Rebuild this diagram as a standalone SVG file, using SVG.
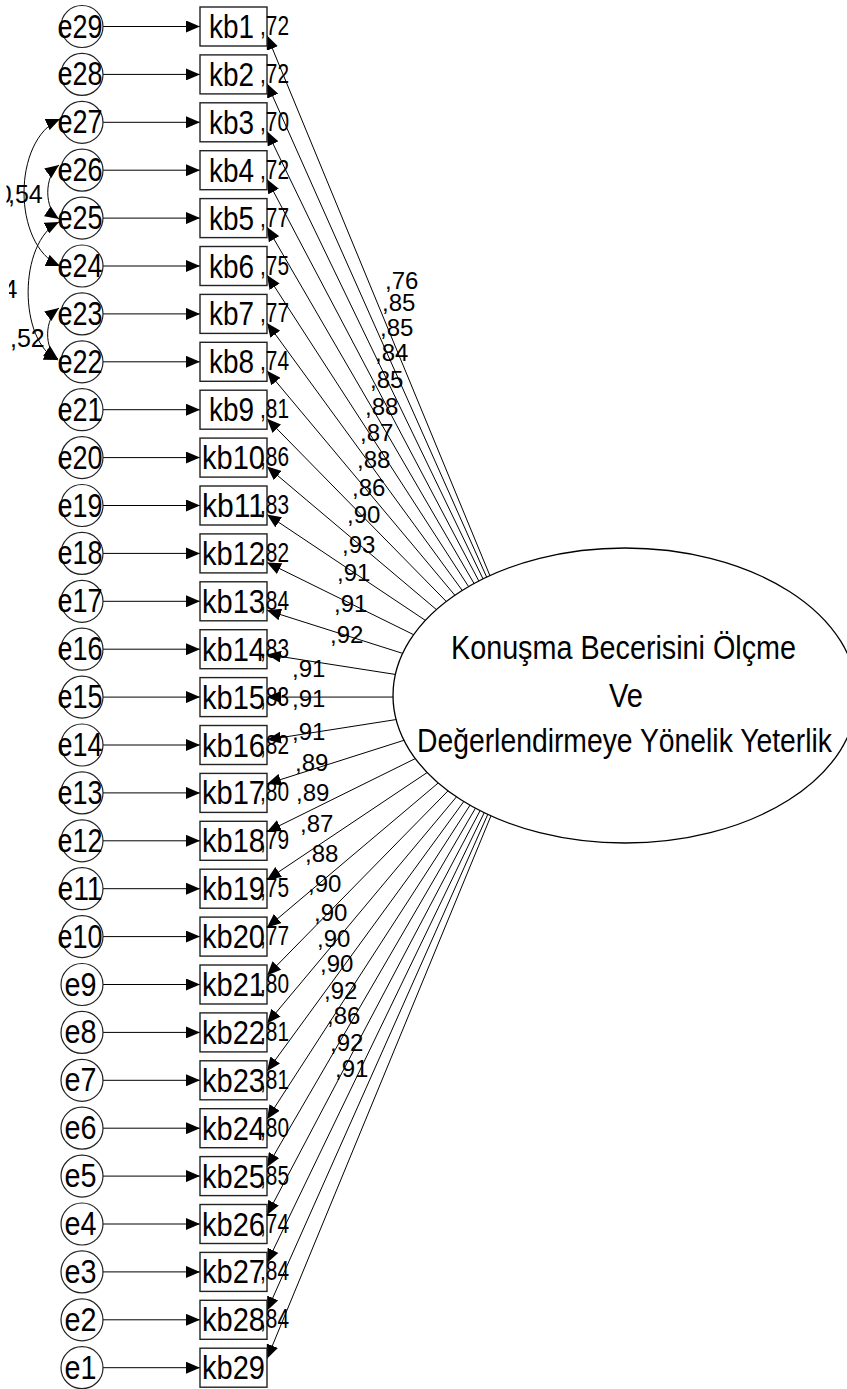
<svg xmlns="http://www.w3.org/2000/svg" width="847" height="1389" viewBox="0 0 847 1389">
<style>
text{font-family:"Liberation Sans",Arial,sans-serif;fill:#000}
.et{font-size:33px}
.kt{font-size:33px}
.r2{font-size:27px}
.lab{font-size:24px}
.big{font-size:33px}
circle.node{fill:#fff;stroke:#222;stroke-width:1.2}
rect.node{fill:#fff;stroke:#222;stroke-width:1.4}
.path{fill:none;stroke:#000;stroke-width:1;marker-end:url(#ah)}
.cov{fill:none;stroke:#000;stroke-width:1;marker-start:url(#ah);marker-end:url(#ah)}
</style>
<defs>
<marker id="ah" viewBox="0 0 14 12" refX="14" refY="6" markerWidth="14" markerHeight="12" markerUnits="userSpaceOnUse" orient="auto-start-reverse"><path d="M0,0 L14,6 L0,12 z" fill="#000"/></marker>
<clipPath id="clipA"><rect x="6.5" y="170" width="30" height="45"/></clipPath>
<clipPath id="clipC"><rect x="9" y="265" width="30" height="45"/></clipPath>
</defs>
<rect width="847" height="1389" fill="#fff"/>

<g id="connectors">
<line class="path" x1="103" y1="26.5" x2="200" y2="26.5"/>
<line class="path" x1="103" y1="74.4" x2="200" y2="74.4"/>
<line class="path" x1="103" y1="122.3" x2="200" y2="122.3"/>
<line class="path" x1="103" y1="170.2" x2="200" y2="170.2"/>
<line class="path" x1="103" y1="218.1" x2="200" y2="218.1"/>
<line class="path" x1="103" y1="266" x2="200" y2="266"/>
<line class="path" x1="103" y1="313.9" x2="200" y2="313.9"/>
<line class="path" x1="103" y1="361.8" x2="200" y2="361.8"/>
<line class="path" x1="103" y1="409.7" x2="200" y2="409.7"/>
<line class="path" x1="103" y1="457.6" x2="200" y2="457.6"/>
<line class="path" x1="103" y1="505.5" x2="200" y2="505.5"/>
<line class="path" x1="103" y1="553.4" x2="200" y2="553.4"/>
<line class="path" x1="103" y1="601.3" x2="200" y2="601.3"/>
<line class="path" x1="103" y1="649.2" x2="200" y2="649.2"/>
<line class="path" x1="103" y1="697.1" x2="200" y2="697.1"/>
<line class="path" x1="103" y1="745" x2="200" y2="745"/>
<line class="path" x1="103" y1="792.9" x2="200" y2="792.9"/>
<line class="path" x1="103" y1="840.8" x2="200" y2="840.8"/>
<line class="path" x1="103" y1="888.7" x2="200" y2="888.7"/>
<line class="path" x1="103" y1="936.6" x2="200" y2="936.6"/>
<line class="path" x1="103" y1="984.5" x2="200" y2="984.5"/>
<line class="path" x1="103" y1="1032.4" x2="200" y2="1032.4"/>
<line class="path" x1="103" y1="1080.3" x2="200" y2="1080.3"/>
<line class="path" x1="103" y1="1128.2" x2="200" y2="1128.2"/>
<line class="path" x1="103" y1="1176.1" x2="200" y2="1176.1"/>
<line class="path" x1="103" y1="1224" x2="200" y2="1224"/>
<line class="path" x1="103" y1="1271.9" x2="200" y2="1271.9"/>
<line class="path" x1="103" y1="1319.8" x2="200" y2="1319.8"/>
<line class="path" x1="103" y1="1367.7" x2="200" y2="1367.7"/>
<line class="path" x1="540" y1="697" x2="267" y2="35.5"/>
<line class="path" x1="540" y1="697" x2="267" y2="83.4"/>
<line class="path" x1="540" y1="697" x2="267" y2="131.3"/>
<line class="path" x1="540" y1="697" x2="267" y2="179.2"/>
<line class="path" x1="540" y1="697" x2="267" y2="227.1"/>
<line class="path" x1="540" y1="697" x2="267" y2="275"/>
<line class="path" x1="540" y1="697" x2="267" y2="322.9"/>
<line class="path" x1="540" y1="697" x2="267" y2="370.8"/>
<line class="path" x1="540" y1="697" x2="267" y2="418.7"/>
<line class="path" x1="540" y1="697" x2="267" y2="466.6"/>
<line class="path" x1="540" y1="697" x2="267" y2="514.5"/>
<line class="path" x1="540" y1="697" x2="267" y2="562.4"/>
<line class="path" x1="540" y1="697" x2="267" y2="610.3"/>
<line class="path" x1="540" y1="697" x2="267" y2="654.4"/>
<line class="path" x1="540" y1="697" x2="267" y2="697.1"/>
<line class="path" x1="540" y1="697" x2="267" y2="739.8"/>
<line class="path" x1="540" y1="697" x2="267" y2="783.9"/>
<line class="path" x1="540" y1="697" x2="267" y2="831.8"/>
<line class="path" x1="540" y1="697" x2="267" y2="879.7"/>
<line class="path" x1="540" y1="697" x2="267" y2="927.6"/>
<line class="path" x1="540" y1="697" x2="267" y2="975.5"/>
<line class="path" x1="540" y1="697" x2="267" y2="1023.4"/>
<line class="path" x1="540" y1="697" x2="267" y2="1071.3"/>
<line class="path" x1="540" y1="697" x2="267" y2="1119.2"/>
<line class="path" x1="540" y1="697" x2="267" y2="1167.1"/>
<line class="path" x1="540" y1="697" x2="267" y2="1215"/>
<line class="path" x1="540" y1="697" x2="267" y2="1262.9"/>
<line class="path" x1="540" y1="697" x2="267" y2="1310.8"/>
<line class="path" x1="540" y1="697" x2="267" y2="1358.7"/>
<path class="cov" d="M60,119 C12,140 12,245 60,266"/>
<path class="cov" d="M59,165 C44,176 44,209 59,219"/>
<path class="cov" d="M59,222 C18,242 18,342 58,360"/>
<path class="cov" d="M59,308 C44,319 44,349 58,359"/>
<text class="lab" x="-2.2" y="203" style="font-size:25px" clip-path="url(#clipA)">0</text>
<text class="lab" x="8" y="203" style="font-size:25px">,54</text>
<text class="lab" x="3.5" y="298" style="font-size:25px" clip-path="url(#clipC)">4</text>
<text class="lab" x="10" y="347" style="font-size:25px">,52</text>
<text class="lab" x="385" y="288.6">,76</text>
<text class="lab" x="382" y="310.6">,85</text>
<text class="lab" x="380" y="335.6">,85</text>
<text class="lab" x="375" y="360.6">,84</text>
<text class="lab" x="370" y="387.6">,85</text>
<text class="lab" x="365" y="414.6">,88</text>
<text class="lab" x="360" y="440.6">,87</text>
<text class="lab" x="357" y="467.6">,88</text>
<text class="lab" x="352" y="495.6">,86</text>
<text class="lab" x="347" y="522.6">,90</text>
<text class="lab" x="342" y="552.6">,93</text>
<text class="lab" x="337" y="580.6">,91</text>
<text class="lab" x="334" y="611.6">,91</text>
<text class="lab" x="330" y="642.6">,92</text>
<text class="lab" x="292" y="676.6">,91</text>
<text class="lab" x="292" y="706.6">,91</text>
<text class="lab" x="292" y="739.6">,91</text>
<text class="lab" x="295" y="770.6">,89</text>
<text class="lab" x="296" y="800.6">,89</text>
<text class="lab" x="300" y="831.6">,87</text>
<text class="lab" x="305" y="861.6">,88</text>
<text class="lab" x="308" y="891.6">,90</text>
<text class="lab" x="314" y="920.6">,90</text>
<text class="lab" x="317" y="946.6">,90</text>
<text class="lab" x="320" y="971.6">,90</text>
<text class="lab" x="324" y="998.6">,92</text>
<text class="lab" x="327" y="1023.6">,86</text>
<text class="lab" x="330" y="1050.6">,92</text>
<text class="lab" x="335" y="1076.6">,91</text>
</g>

<g id="F1">
<ellipse cx="625" cy="695.5" rx="232" ry="147.5" fill="#fff" stroke="#000" stroke-width="1.3"/>
<text class="big" x="451" y="659" textLength="345" lengthAdjust="spacingAndGlyphs">Konuşma Becerisini Ölçme</text>
<text class="big" x="609" y="707" textLength="34" lengthAdjust="spacingAndGlyphs">Ve</text>
<text class="big" x="417" y="752" textLength="415" lengthAdjust="spacingAndGlyphs">Değerlendirmeye Yönelik Yeterlik</text>
</g>

<g id="errors">
<g id="e29"><circle class="node" cx="82" cy="26.5" r="21"/><text class="et" x="57.5" y="37.5" textLength="45" lengthAdjust="spacingAndGlyphs">e29</text></g>
<g id="e28"><circle class="node" cx="82" cy="74.4" r="21"/><text class="et" x="57.5" y="85.4" textLength="45" lengthAdjust="spacingAndGlyphs">e28</text></g>
<g id="e27"><circle class="node" cx="82" cy="122.3" r="21"/><text class="et" x="57.5" y="133.3" textLength="45" lengthAdjust="spacingAndGlyphs">e27</text></g>
<g id="e26"><circle class="node" cx="82" cy="170.2" r="21"/><text class="et" x="57.5" y="181.2" textLength="45" lengthAdjust="spacingAndGlyphs">e26</text></g>
<g id="e25"><circle class="node" cx="82" cy="218.1" r="21"/><text class="et" x="57.5" y="229.1" textLength="45" lengthAdjust="spacingAndGlyphs">e25</text></g>
<g id="e24"><circle class="node" cx="82" cy="266" r="21"/><text class="et" x="57.5" y="277" textLength="45" lengthAdjust="spacingAndGlyphs">e24</text></g>
<g id="e23"><circle class="node" cx="82" cy="313.9" r="21"/><text class="et" x="57.5" y="324.9" textLength="45" lengthAdjust="spacingAndGlyphs">e23</text></g>
<g id="e22"><circle class="node" cx="82" cy="361.8" r="21"/><text class="et" x="57.5" y="372.8" textLength="45" lengthAdjust="spacingAndGlyphs">e22</text></g>
<g id="e21"><circle class="node" cx="82" cy="409.7" r="21"/><text class="et" x="57.5" y="420.7" textLength="45" lengthAdjust="spacingAndGlyphs">e21</text></g>
<g id="e20"><circle class="node" cx="82" cy="457.6" r="21"/><text class="et" x="57.5" y="468.6" textLength="45" lengthAdjust="spacingAndGlyphs">e20</text></g>
<g id="e19"><circle class="node" cx="82" cy="505.5" r="21"/><text class="et" x="57.5" y="516.5" textLength="45" lengthAdjust="spacingAndGlyphs">e19</text></g>
<g id="e18"><circle class="node" cx="82" cy="553.4" r="21"/><text class="et" x="57.5" y="564.4" textLength="45" lengthAdjust="spacingAndGlyphs">e18</text></g>
<g id="e17"><circle class="node" cx="82" cy="601.3" r="21"/><text class="et" x="57.5" y="612.3" textLength="45" lengthAdjust="spacingAndGlyphs">e17</text></g>
<g id="e16"><circle class="node" cx="82" cy="649.2" r="21"/><text class="et" x="57.5" y="660.2" textLength="45" lengthAdjust="spacingAndGlyphs">e16</text></g>
<g id="e15"><circle class="node" cx="82" cy="697.1" r="21"/><text class="et" x="57.5" y="708.1" textLength="45" lengthAdjust="spacingAndGlyphs">e15</text></g>
<g id="e14"><circle class="node" cx="82" cy="745" r="21"/><text class="et" x="57.5" y="756" textLength="45" lengthAdjust="spacingAndGlyphs">e14</text></g>
<g id="e13"><circle class="node" cx="82" cy="792.9" r="21"/><text class="et" x="57.5" y="803.9" textLength="45" lengthAdjust="spacingAndGlyphs">e13</text></g>
<g id="e12"><circle class="node" cx="82" cy="840.8" r="21"/><text class="et" x="57.5" y="851.8" textLength="45" lengthAdjust="spacingAndGlyphs">e12</text></g>
<g id="e11"><circle class="node" cx="82" cy="888.7" r="21"/><text class="et" x="57.5" y="899.7" textLength="45" lengthAdjust="spacingAndGlyphs">e11</text></g>
<g id="e10"><circle class="node" cx="82" cy="936.6" r="21"/><text class="et" x="57.5" y="947.6" textLength="45" lengthAdjust="spacingAndGlyphs">e10</text></g>
<g id="e9"><circle class="node" cx="82" cy="984.5" r="21"/><text class="et" x="64.5" y="995.5" textLength="32" lengthAdjust="spacingAndGlyphs">e9</text></g>
<g id="e8"><circle class="node" cx="82" cy="1032.4" r="21"/><text class="et" x="64.5" y="1043.4" textLength="32" lengthAdjust="spacingAndGlyphs">e8</text></g>
<g id="e7"><circle class="node" cx="82" cy="1080.3" r="21"/><text class="et" x="64.5" y="1091.3" textLength="32" lengthAdjust="spacingAndGlyphs">e7</text></g>
<g id="e6"><circle class="node" cx="82" cy="1128.2" r="21"/><text class="et" x="64.5" y="1139.2" textLength="32" lengthAdjust="spacingAndGlyphs">e6</text></g>
<g id="e5"><circle class="node" cx="82" cy="1176.1" r="21"/><text class="et" x="64.5" y="1187.1" textLength="32" lengthAdjust="spacingAndGlyphs">e5</text></g>
<g id="e4"><circle class="node" cx="82" cy="1224" r="21"/><text class="et" x="64.5" y="1235" textLength="32" lengthAdjust="spacingAndGlyphs">e4</text></g>
<g id="e3"><circle class="node" cx="82" cy="1271.9" r="21"/><text class="et" x="64.5" y="1282.9" textLength="32" lengthAdjust="spacingAndGlyphs">e3</text></g>
<g id="e2"><circle class="node" cx="82" cy="1319.8" r="21"/><text class="et" x="64.5" y="1330.8" textLength="32" lengthAdjust="spacingAndGlyphs">e2</text></g>
<g id="e1"><circle class="node" cx="82" cy="1367.7" r="21"/><text class="et" x="64.5" y="1378.7" textLength="32" lengthAdjust="spacingAndGlyphs">e1</text></g>
</g>

<g id="indicators">
<g id="kb1"><rect class="node" x="200" y="7" width="67" height="39"/><text class="kt" x="209" y="38" textLength="45" lengthAdjust="spacingAndGlyphs">kb1</text><text class="r2" x="260" y="35" textLength="29" lengthAdjust="spacingAndGlyphs">,72</text></g>
<g id="kb2"><rect class="node" x="200" y="54.9" width="67" height="39"/><text class="kt" x="209" y="85.9" textLength="45" lengthAdjust="spacingAndGlyphs">kb2</text><text class="r2" x="260" y="82.9" textLength="29" lengthAdjust="spacingAndGlyphs">,72</text></g>
<g id="kb3"><rect class="node" x="200" y="102.8" width="67" height="39"/><text class="kt" x="209" y="133.8" textLength="45" lengthAdjust="spacingAndGlyphs">kb3</text><text class="r2" x="260" y="130.8" textLength="29" lengthAdjust="spacingAndGlyphs">,70</text></g>
<g id="kb4"><rect class="node" x="200" y="150.7" width="67" height="39"/><text class="kt" x="209" y="181.7" textLength="45" lengthAdjust="spacingAndGlyphs">kb4</text><text class="r2" x="260" y="178.7" textLength="29" lengthAdjust="spacingAndGlyphs">,72</text></g>
<g id="kb5"><rect class="node" x="200" y="198.6" width="67" height="39"/><text class="kt" x="209" y="229.6" textLength="45" lengthAdjust="spacingAndGlyphs">kb5</text><text class="r2" x="260" y="226.6" textLength="29" lengthAdjust="spacingAndGlyphs">,77</text></g>
<g id="kb6"><rect class="node" x="200" y="246.5" width="67" height="39"/><text class="kt" x="209" y="277.5" textLength="45" lengthAdjust="spacingAndGlyphs">kb6</text><text class="r2" x="260" y="274.5" textLength="29" lengthAdjust="spacingAndGlyphs">,75</text></g>
<g id="kb7"><rect class="node" x="200" y="294.4" width="67" height="39"/><text class="kt" x="209" y="325.4" textLength="45" lengthAdjust="spacingAndGlyphs">kb7</text><text class="r2" x="260" y="322.4" textLength="29" lengthAdjust="spacingAndGlyphs">,77</text></g>
<g id="kb8"><rect class="node" x="200" y="342.3" width="67" height="39"/><text class="kt" x="209" y="373.3" textLength="45" lengthAdjust="spacingAndGlyphs">kb8</text><text class="r2" x="260" y="370.3" textLength="29" lengthAdjust="spacingAndGlyphs">,74</text></g>
<g id="kb9"><rect class="node" x="200" y="390.2" width="67" height="39"/><text class="kt" x="209" y="421.2" textLength="45" lengthAdjust="spacingAndGlyphs">kb9</text><text class="r2" x="260" y="418.2" textLength="29" lengthAdjust="spacingAndGlyphs">,81</text></g>
<g id="kb10"><rect class="node" x="200" y="438.1" width="67" height="39"/><text class="kt" x="202" y="469.1" textLength="63" lengthAdjust="spacingAndGlyphs">kb10</text><text class="r2" x="260" y="466.1" textLength="29" lengthAdjust="spacingAndGlyphs">,86</text></g>
<g id="kb11"><rect class="node" x="200" y="486" width="67" height="39"/><text class="kt" x="202" y="517" textLength="63" lengthAdjust="spacingAndGlyphs">kb11</text><text class="r2" x="260" y="514" textLength="29" lengthAdjust="spacingAndGlyphs">,83</text></g>
<g id="kb12"><rect class="node" x="200" y="533.9" width="67" height="39"/><text class="kt" x="202" y="564.9" textLength="63" lengthAdjust="spacingAndGlyphs">kb12</text><text class="r2" x="260" y="561.9" textLength="29" lengthAdjust="spacingAndGlyphs">,82</text></g>
<g id="kb13"><rect class="node" x="200" y="581.8" width="67" height="39"/><text class="kt" x="202" y="612.8" textLength="63" lengthAdjust="spacingAndGlyphs">kb13</text><text class="r2" x="260" y="609.8" textLength="29" lengthAdjust="spacingAndGlyphs">,84</text></g>
<g id="kb14"><rect class="node" x="200" y="629.7" width="67" height="39"/><text class="kt" x="202" y="660.7" textLength="63" lengthAdjust="spacingAndGlyphs">kb14</text><text class="r2" x="260" y="657.7" textLength="29" lengthAdjust="spacingAndGlyphs">,83</text></g>
<g id="kb15"><rect class="node" x="200" y="677.6" width="67" height="39"/><text class="kt" x="202" y="708.6" textLength="63" lengthAdjust="spacingAndGlyphs">kb15</text><text class="r2" x="260" y="705.6" textLength="29" lengthAdjust="spacingAndGlyphs">,83</text></g>
<g id="kb16"><rect class="node" x="200" y="725.5" width="67" height="39"/><text class="kt" x="202" y="756.5" textLength="63" lengthAdjust="spacingAndGlyphs">kb16</text><text class="r2" x="260" y="753.5" textLength="29" lengthAdjust="spacingAndGlyphs">,82</text></g>
<g id="kb17"><rect class="node" x="200" y="773.4" width="67" height="39"/><text class="kt" x="202" y="804.4" textLength="63" lengthAdjust="spacingAndGlyphs">kb17</text><text class="r2" x="260" y="801.4" textLength="29" lengthAdjust="spacingAndGlyphs">,80</text></g>
<g id="kb18"><rect class="node" x="200" y="821.3" width="67" height="39"/><text class="kt" x="202" y="852.3" textLength="63" lengthAdjust="spacingAndGlyphs">kb18</text><text class="r2" x="260" y="849.3" textLength="29" lengthAdjust="spacingAndGlyphs">,79</text></g>
<g id="kb19"><rect class="node" x="200" y="869.2" width="67" height="39"/><text class="kt" x="202" y="900.2" textLength="63" lengthAdjust="spacingAndGlyphs">kb19</text><text class="r2" x="260" y="897.2" textLength="29" lengthAdjust="spacingAndGlyphs">,75</text></g>
<g id="kb20"><rect class="node" x="200" y="917.1" width="67" height="39"/><text class="kt" x="202" y="948.1" textLength="63" lengthAdjust="spacingAndGlyphs">kb20</text><text class="r2" x="260" y="945.1" textLength="29" lengthAdjust="spacingAndGlyphs">,77</text></g>
<g id="kb21"><rect class="node" x="200" y="965" width="67" height="39"/><text class="kt" x="202" y="996" textLength="63" lengthAdjust="spacingAndGlyphs">kb21</text><text class="r2" x="260" y="993" textLength="29" lengthAdjust="spacingAndGlyphs">,80</text></g>
<g id="kb22"><rect class="node" x="200" y="1012.9" width="67" height="39"/><text class="kt" x="202" y="1043.9" textLength="63" lengthAdjust="spacingAndGlyphs">kb22</text><text class="r2" x="260" y="1040.9" textLength="29" lengthAdjust="spacingAndGlyphs">,81</text></g>
<g id="kb23"><rect class="node" x="200" y="1060.8" width="67" height="39"/><text class="kt" x="202" y="1091.8" textLength="63" lengthAdjust="spacingAndGlyphs">kb23</text><text class="r2" x="260" y="1088.8" textLength="29" lengthAdjust="spacingAndGlyphs">,81</text></g>
<g id="kb24"><rect class="node" x="200" y="1108.7" width="67" height="39"/><text class="kt" x="202" y="1139.7" textLength="63" lengthAdjust="spacingAndGlyphs">kb24</text><text class="r2" x="260" y="1136.7" textLength="29" lengthAdjust="spacingAndGlyphs">,80</text></g>
<g id="kb25"><rect class="node" x="200" y="1156.6" width="67" height="39"/><text class="kt" x="202" y="1187.6" textLength="63" lengthAdjust="spacingAndGlyphs">kb25</text><text class="r2" x="260" y="1184.6" textLength="29" lengthAdjust="spacingAndGlyphs">,85</text></g>
<g id="kb26"><rect class="node" x="200" y="1204.5" width="67" height="39"/><text class="kt" x="202" y="1235.5" textLength="63" lengthAdjust="spacingAndGlyphs">kb26</text><text class="r2" x="260" y="1232.5" textLength="29" lengthAdjust="spacingAndGlyphs">,74</text></g>
<g id="kb27"><rect class="node" x="200" y="1252.4" width="67" height="39"/><text class="kt" x="202" y="1283.4" textLength="63" lengthAdjust="spacingAndGlyphs">kb27</text><text class="r2" x="260" y="1280.4" textLength="29" lengthAdjust="spacingAndGlyphs">,84</text></g>
<g id="kb28"><rect class="node" x="200" y="1300.3" width="67" height="39"/><text class="kt" x="202" y="1331.3" textLength="63" lengthAdjust="spacingAndGlyphs">kb28</text><text class="r2" x="260" y="1328.3" textLength="29" lengthAdjust="spacingAndGlyphs">,84</text></g>
<g id="kb29"><rect class="node" x="200" y="1348.2" width="67" height="39"/><text class="kt" x="202" y="1379.2" textLength="63" lengthAdjust="spacingAndGlyphs">kb29</text></g>
</g>
</svg>
